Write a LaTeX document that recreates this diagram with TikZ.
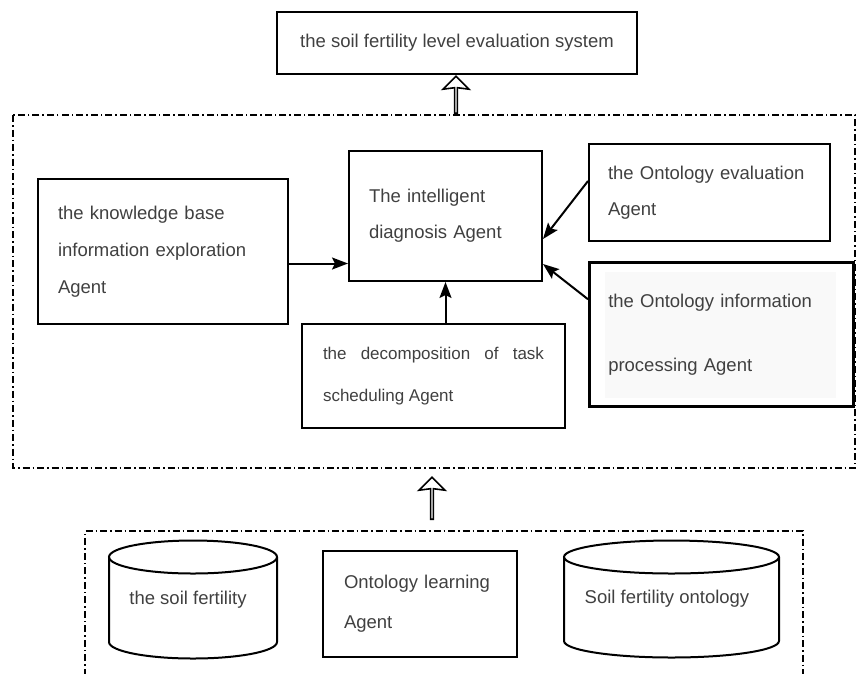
\documentclass[tikz,border=0pt]{standalone}
\usepackage{fontspec}
\setmainfont{Liberation Sans}
\usetikzlibrary{arrows.meta,shapes.arrows,positioning}
\definecolor{txtgray}{RGB}{64,64,64}
\definecolor{boxfill}{RGB}{249,249,249}

\tikzset{
  agentbox/.style={draw=black, line width=2pt, anchor=north west, align=left,
    inner xsep=20pt, inner ysep=0pt},
  frame/.style={line width=1.8pt, dash pattern=on 7pt off 3pt on 1.5pt off 3pt},
  conn/.style={line width=2pt, -{Stealth[length=16pt,width=12pt,inset=3pt]}},
  hollowup/.style={single arrow, draw=black, line width=1.6pt, shape border rotate=90,
    minimum width=26pt, single arrow head extend=7pt, single arrow head indent=1.5pt,
    single arrow tip angle=90, inner sep=0pt, minimum height=37pt, anchor=tail},
}

\begin{document}
\begin{tikzpicture}[x=1pt,y=-1pt,
    every node/.style={font=\fontsize{18.5}{36}\selectfont, text=txtgray}]
  \useasboundingbox (0,0) rectangle (864,673);
  \clip (0,0) rectangle (864,673);

  % outer frames
  \draw[frame] (13,115) rectangle (855,468);
  \draw[frame] (85,690) -- (85,531) -- (803,531) -- (803,690);

  % top system box
  \node[agentbox, minimum width=360pt, minimum height=62pt, inner xsep=21pt]
    (system) at (276,11) {the soil fertility level evaluation system};

  % agents
  \node[agentbox, minimum width=246pt, minimum height=145pt, text width=210pt, inner xsep=20pt]
    (know) at (37,178) {the knowledge base\\[1pt]information exploration\\[1pt]Agent};
  \node[agentbox, minimum width=193pt, minimum height=130pt, text width=153pt]
    (intel) at (348,150) {The intelligent\\diagnosis Agent\\[10pt]};
  \node[agentbox, minimum width=240pt, minimum height=97pt, text width=203pt, inner xsep=19pt]
    (eval) at (588,143) {the Ontology evaluation\\Agent};
  \fill[boxfill] (605,272) rectangle (836,398);
  \node[agentbox, line width=2.5pt, minimum width=264pt, minimum height=144pt, text width=226pt, inner xsep=19pt]
    (info) at (588,261) {the Ontology information\\[28pt]processing Agent};
  \node[agentbox, minimum width=262pt, minimum height=104pt, text width=221pt,
    align=justify, inner xsep=21pt, font=\fontsize{17}{42}\selectfont]
    (decomp) at (301,323) {the decomposition of task scheduling Agent};

  % bottom layer
  \node[agentbox, minimum width=190pt, minimum height=106pt, text width=152pt, inner xsep=21pt]
    (learn) at (322,550) {Ontology learning\\[4pt]Agent};
  \draw[line width=2pt] (193,557) ellipse [x radius=84pt, y radius=16.5pt];
  \draw[line width=2pt] (109,557) -- (109,642)
    arc[start angle=180, end angle=360, x radius=84pt, y radius=16.5pt] -- (277,557);
  \node (soil) at (188,600) {the soil fertility};
  \draw[line width=2pt] (671.5,557) ellipse [x radius=107.5pt, y radius=16.5pt];
  \draw[line width=2pt] (564,557) -- (564,641)
    arc[start angle=180, end angle=360, x radius=107.5pt, y radius=16.5pt] -- (779,557);
  \node (onto) at (667,599) {Soil fertility ontology};

  % hollow arrows between layers
  \node[hollowup] (up1) at (456,114) {};
  \node[hollowup, minimum height=42pt] (up2) at (432,520) {};

  % connectors
  \draw[conn] ([yshift=-12pt]know.east) -- ([yshift=-12pt]know.east -| intel.west);
  \draw[conn] (decomp.north -| intel.south) -- (intel.south);
  \draw[conn] ([yshift=11.5pt]eval.west) -- ([yshift=-23pt]intel.east);
  \draw[conn] ([yshift=35pt]info.west) -- ([yshift=18pt]intel.south east);
\end{tikzpicture}
\end{document}
